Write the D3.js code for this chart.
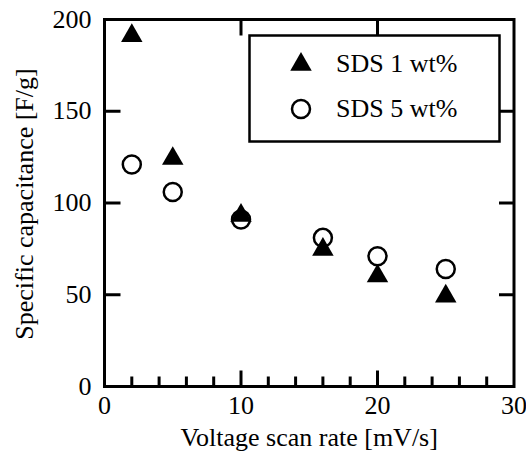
<!DOCTYPE html>
<html>
<head>
<meta charset="utf-8">
<script src="https://cdn.jsdelivr.net/npm/d3@7"></script>
<style>
  body { margin: 0; background: #fff; }
  text { font-family: "Liberation Serif", "Times New Roman", serif; fill: #000; }
</style>
</head>
<body>
<div id="chart"></div>
<script>
var svgWidth = 526;
var svgHeight = 452;

var margin = { top: 19.5, right: 12, bottom: 65.5, left: 104.5 };
var width = svgWidth - margin.left - margin.right;
var height = svgHeight - margin.top - margin.bottom;

// data
var scanRate = [2, 5, 10, 16, 20, 25];
var sds1 = [192, 125, 94, 75.5, 61, 50];
var sds5 = [121, 106, 91, 81, 71, 64];
var seriesNames = ["SDS 1 wt%", "SDS 5 wt%"];
var xTicks = [0, 10, 20, 30];
var xMinorTicks = [2, 4, 6, 8, 12, 14, 16, 18, 22, 24, 26, 28];
var yTicks = [0, 50, 100, 150, 200];

var svg = d3.select("#chart").append("svg")
    .attr("width", svgWidth)
    .attr("height", svgHeight);

var g = svg.append("g")
    .attr("transform", `translate(${margin.left}, ${margin.top})`);

var x = d3.scaleLinear().domain([0, 30]).range([0, width]);
var y = d3.scaleLinear().domain([0, 200]).range([height, 0]);

var lw = 3;
var fs = "26px";

// ticks drawn inward
function tickLines(sel, vals, fn) {
    sel.selectAll("line").data(vals).enter().append("line")
        .each(function(d) { var a = fn(d); d3.select(this).attr("x1", a[0]).attr("y1", a[1]).attr("x2", a[2]).attr("y2", a[3]); })
        .attr("stroke", "#000").attr("stroke-width", lw);
}

var inner = xTicks.slice(1, -1);
var innerY = yTicks.slice(1, -1);
tickLines(g.append("g"), inner, d => [x(d), height, x(d), height - 16]);
tickLines(g.append("g"), xMinorTicks, d => [x(d), height, x(d), height - 10]);
tickLines(g.append("g"), inner, d => [x(d), 0, x(d), 16]);
tickLines(g.append("g"), innerY, d => [0, y(d), 16, y(d)]);
tickLines(g.append("g"), innerY, d => [width, y(d), width - 15, y(d)]);

// frame
g.append("rect")
    .attr("x", 0).attr("y", 0)
    .attr("width", width).attr("height", height)
    .attr("fill", "none").attr("stroke", "#000").attr("stroke-width", lw);

// tick labels
g.selectAll(".xlab").data(xTicks).enter().append("text")
    .attr("x", d => x(d)).attr("y", height + 27)
    .attr("text-anchor", "middle").attr("font-size", fs)
    .text(d => d);

g.selectAll(".ylab").data(yTicks).enter().append("text")
    .attr("x", -13).attr("y", d => y(d) + 8)
    .attr("text-anchor", "end").attr("font-size", fs)
    .text(d => d);

// axis titles
svg.append("text")
    .attr("x", margin.left + width / 2).attr("y", 446)
    .attr("text-anchor", "middle").attr("font-size", fs)
    .text("Voltage scan rate [mV/s]");

svg.append("text")
    .attr("transform", "translate(33, 204) rotate(-90)")
    .attr("text-anchor", "middle").attr("font-size", fs)
    .text("Specific capacitance [F/g]");

var tri = d3.symbol().type(d3.symbolTriangle).size(200);

// SDS 5 circles
g.selectAll(".c5").data(scanRate).enter().append("circle")
    .attr("cx", d => x(d))
    .attr("cy", (d, i) => y(sds5[i]))
    .attr("r", 9)
    .attr("fill", "none").attr("stroke", "#000").attr("stroke-width", 2.5);

// SDS 1 triangles
g.selectAll(".t1").data(scanRate).enter().append("path")
    .attr("d", tri)
    .attr("transform", (d, i) => `translate(${x(d)}, ${y(sds1[i]) + 1.5})`)
    .attr("fill", "#000");

// legend
var leg = svg.append("g");
leg.append("rect")
    .attr("x", 249.5).attr("y", 35.5)
    .attr("width", 250).attr("height", 106)
    .attr("fill", "#fff").attr("stroke", "#000").attr("stroke-width", 2.5);
leg.append("path").attr("d", tri).attr("transform", "translate(301, 64.5)").attr("fill", "#000");
leg.append("circle").attr("cx", 301).attr("cy", 109).attr("r", 9)
    .attr("fill", "none").attr("stroke", "#000").attr("stroke-width", 2.5);
leg.selectAll(".lt").data(seriesNames).enter().append("text")
    .attr("x", 336).attr("y", (d, i) => 72 + i * 45)
    .attr("font-size", fs)
    .text(d => d);
</script>
</body>
</html>
